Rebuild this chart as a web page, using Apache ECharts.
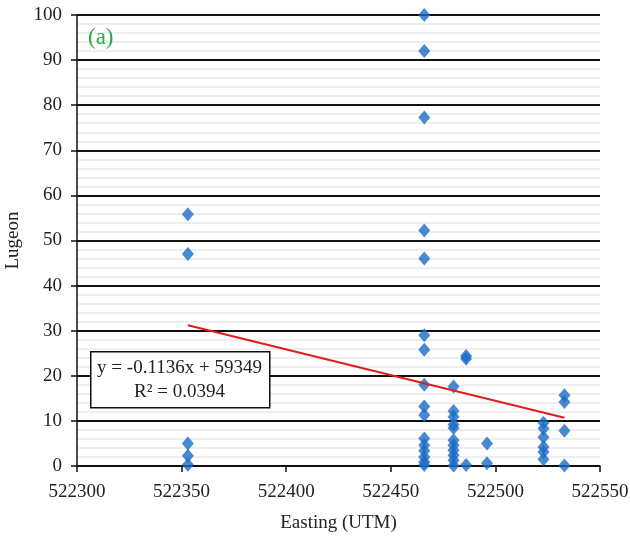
<!DOCTYPE html>
<html>
<head>
<meta charset="utf-8">
<script src="https://cdn.jsdelivr.net/npm/echarts@6/dist/echarts.min.js"></script>
<style>
  html, body { margin: 0; padding: 0; background: #fff; }
  #chart { width: 630px; height: 540px; }
</style>
</head>
<body>
<div id="chart"></div>
<script>
// Lugeon test values grouped by borehole easting (UTM)
const eastings = [522353, 522466, 522480, 522486, 522496, 522523, 522533];
const lugeonByEasting = [
  [55.8, 47.0, 5.0, 2.3, 0.3],
  [100, 92.0, 77.3, 52.2, 46.0, 29.0, 25.8, 18.0, 13.2, 11.3, 6.1, 4.6, 3.4, 2.0, 0.9, 0.2],
  [17.6, 12.2, 10.9, 9.2, 8.4, 5.7, 4.6, 3.5, 2.4, 1.3, 0.1],
  [24.4, 23.8, 0.2],
  [5.0, 0.6],
  [9.6, 8.3, 6.4, 4.2, 3.1, 1.5],
  [15.7, 14.2, 7.8, 0.1]
];
// Linear trend line end points
const trendX = [522353, 522533];
const trendY = [31.2, 10.7];
const xTicks = [522300, 522350, 522400, 522450, 522500, 522550];
const equationLines = ['y = -0.1136x + 59349', 'R² = 0.0394'];
const panelLabel = '(a)';

const points = [];
eastings.forEach((e, i) => lugeonByEasting[i].forEach(v => points.push([e, v])));
const trend = trendX.map((x, i) => [x, trendY[i]]);

const serif = '"Liberation Serif", "DejaVu Serif", serif';
const chart = echarts.init(document.getElementById('chart'), null, { renderer: 'canvas' });

chart.setOption({
  backgroundColor: '#fff',
  animation: false,
  grid: { left: 77, right: 30, top: 15, bottom: 74, containLabel: false, outerBoundsMode: 'none' },
  xAxis: {
    type: 'value',
    min: xTicks[0], max: xTicks[xTicks.length - 1], interval: 50,
    name: 'Easting (UTM)',
    nameLocation: 'middle', nameGap: 48,
    nameTextStyle: { fontFamily: serif, fontSize: 19, color: '#222' },
    axisLine: { show: true, onZero: false, lineStyle: { color: '#111', width: 1.5 } },
    axisTick: { show: true, inside: false, length: 6, lineStyle: { color: '#111', width: 1.5 } },
    axisLabel: { fontFamily: serif, fontSize: 19, color: '#222', margin: 17, formatter: v => String(v) },
    splitLine: { show: false }
  },
  yAxis: {
    type: 'value',
    min: 0, max: 100, interval: 10,
    name: 'Lugeon',
    nameLocation: 'middle', nameGap: 50, nameRotate: 90,
    nameTextStyle: { fontFamily: serif, fontSize: 19, color: '#222' },
    axisLine: { show: true, lineStyle: { color: '#111', width: 1.5 } },
    axisTick: { show: true, inside: false, length: 6, lineStyle: { color: '#111', width: 1.5 } },
    axisLabel: { fontFamily: serif, fontSize: 19, color: '#222', margin: 15 },
    splitLine: { show: true, lineStyle: { color: '#111', width: 2 } },
    minorTick: { show: false, splitNumber: 5 },
    minorSplitLine: { show: true, lineStyle: { color: '#eeeeee', width: 2 } }
  },
  series: [
    {
      type: 'scatter',
      data: points,
      symbol: 'diamond',
      symbolSize: [12, 14],
      itemStyle: { color: '#1a6cc6' },
      z: 3
    },
    {
      type: 'line',
      data: trend,
      symbol: 'none',
      lineStyle: { color: '#e31b1b', width: 2 },
      z: 4
    }
  ],
  graphic: {
    elements: [
      {
        type: 'text', left: 88, top: 26, z: 100,
        style: { text: panelLabel, font: '23px ' + serif, fill: '#2aab4a' }
      },
      {
        type: 'rect', left: 90, top: 351, z: 100,
        shape: { width: 179, height: 56 },
        style: { fill: '#fff', stroke: '#111', lineWidth: 1.5 }
      },
      {
        type: 'text', x: 179.5, y: 368, z: 101,
        style: { text: equationLines[0], font: '19px ' + serif, fill: '#222', align: 'center', verticalAlign: 'middle' }
      },
      {
        type: 'text', x: 179.5, y: 392, z: 101,
        style: { text: equationLines[1], font: '19px ' + serif, fill: '#222', align: 'center', verticalAlign: 'middle' }
      }
    ]
  }
});
</script>
</body>
</html>
